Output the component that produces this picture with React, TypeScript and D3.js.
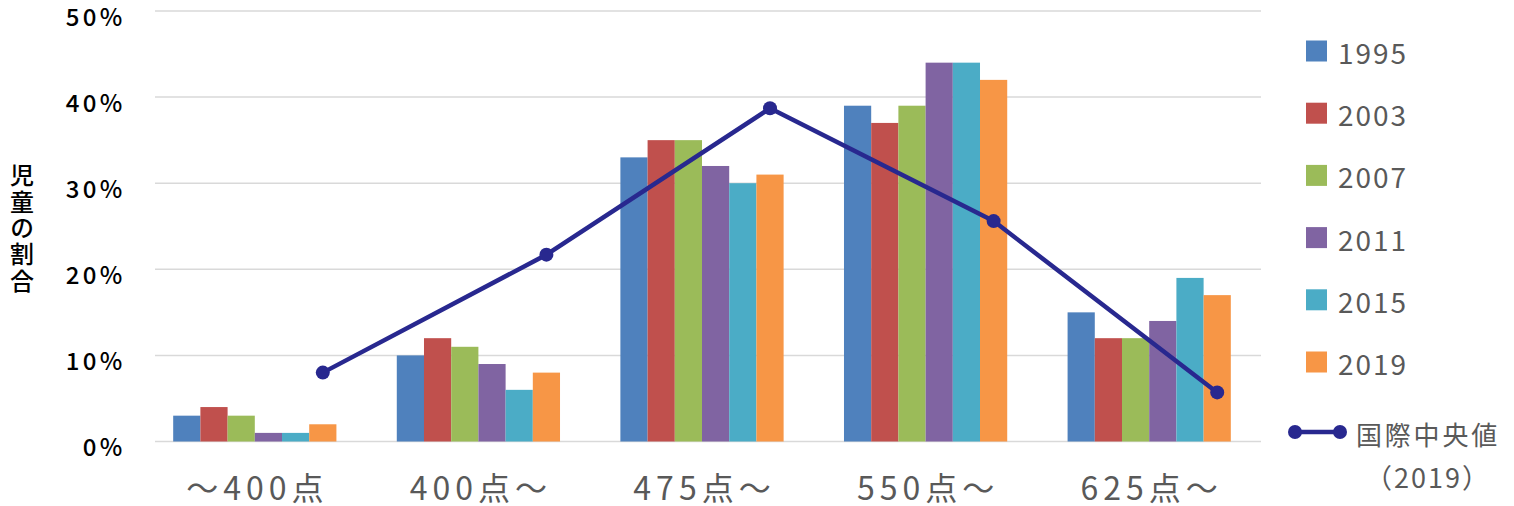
import React from "react";
import * as d3 from "d3";

const categories = ["～400点", "400点～", "475点～", "550点～", "625点～"];
const years = ["1995", "2003", "2007", "2011", "2015", "2019"];
const s1995 = [3, 10, 33, 39, 15];
const s2003 = [4, 12, 35, 37, 12];
const s2007 = [3, 11, 35, 39, 12];
const s2011 = [1, 9, 32, 44, 14];
const s2015 = [1, 6, 30, 44, 19];
const s2019 = [2, 8, 31, 42, 17];
const median2019 = [8, 21.7, 38.7, 25.6, 5.7];
const yTicks = [0, 10, 20, 30, 40, 50];
const colors = ["#4f81bd", "#c0504d", "#9bbb59", "#8064a2", "#4bacc6", "#f79646"];
const lineColor = "#28288f";
const yTitle = "児童の割合";

const seriesList = [s1995, s2003, s2007, s2011, s2015, s2019];

export default function App() {
  const W = 1514, H = 506;
  const x0 = d3.scaleBand<string>().domain(categories).range([143, 1261]).paddingInner(0.27).paddingOuter(0.135);
  const x1 = d3.scaleBand<string>().domain(years).range([0, x0.bandwidth()]).padding(0);
  const y = d3.scaleLinear().domain([0, 50]).range([441.5, 11]);
  const font = "'Noto Sans CJK JP', 'Noto Sans', sans-serif";

  const linePts: [number, number][] = categories.map((c, i) => [
    (x0(c) as number) + (x1("2019") as number) + x1.bandwidth() / 2,
    y(median2019[i]),
  ]);
  const lineGen = d3.line();

  return (
    <svg width={W} height={H} style={{ position: "absolute", left: 0, top: 0, background: "#fff" }}>
      <rect width={W} height={H} fill="#fff" />
      {yTicks.map((t) => (
        <line key={t} x1={155} x2={1261} y1={y(t)} y2={y(t)} stroke="#d9d9d9" strokeWidth={1.5} />
      ))}
      {yTicks.map((t) => (
        <text key={"l" + t} x={125.5} y={y(t) + 4} textAnchor="end" dominantBaseline="central"
          fontFamily={font} fontSize={24} fontWeight={500} letterSpacing={3.3} fill="#000">{t + "%"}</text>
      ))}
      <text x={22} y={163} style={{ writingMode: "vertical-rl" }} fontFamily={font} fontSize={24}
        fontWeight={500} letterSpacing={2.4} fill="#000">{yTitle}</text>
      {categories.map((c, ci) => (
        <g key={c} transform={`translate(${x0(c)},0)`}>
          {years.map((yr, si) => (
            <rect key={yr} x={x1(yr)} width={x1.bandwidth()} y={y(seriesList[si][ci])}
              height={y(0) - y(seriesList[si][ci])} fill={colors[si]} />
          ))}
        </g>
      ))}
      {categories.map((c) => (
        <text key={"x" + c} x={(x0(c) as number) + x0.bandwidth() / 2 + 2.5} y={486} textAnchor="middle"
          dominantBaseline="central" fontFamily={font} fontSize={32} letterSpacing={5} fill="#595959">{c}</text>
      ))}
      <path d={lineGen(linePts) || ""} fill="none" stroke={lineColor} strokeWidth={4.5} strokeLinejoin="round" />
      {linePts.map((p, i) => (
        <circle key={"p" + i} cx={p[0]} cy={p[1]} r={7} fill={lineColor} />
      ))}
      {years.map((yr, i) => (
        <g key={"lg" + yr} transform={`translate(0,${51 + i * 62.2})`}>
          <rect x={1306} y={-10.5} width={21} height={21} fill={colors[i]} />
          <text x={1338} y={1} dominantBaseline="central" fontFamily={font} fontSize={28}
            letterSpacing={2} fill="#595959">{yr}</text>
        </g>
      ))}
      <line x1={1295} x2={1340} y1={432} y2={432} stroke={lineColor} strokeWidth={4.5} />
      <circle cx={1295} cy={432} r={7} fill={lineColor} />
      <circle cx={1340} cy={432} r={7} fill={lineColor} />
      <text x={1356} y={433} dominantBaseline="central" fontFamily={font} fontSize={26}
        letterSpacing={2.8} fill="#595959">国際中央値</text>
      <text x={1428} y={476} textAnchor="middle" dominantBaseline="central" fontFamily={font} fontSize={27}
        letterSpacing={2} fill="#595959">（2019）</text>
    </svg>
  );
}
